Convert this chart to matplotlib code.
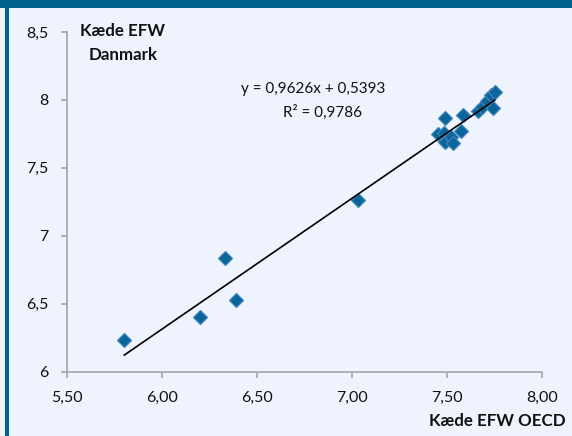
import matplotlib
matplotlib.use("Agg")
import matplotlib.pyplot as plt
from matplotlib.patches import Rectangle
import numpy as np

plt.rcParams['font.family'] = ['Lato', 'DejaVu Sans']

# Data
efw_oecd = [5.80, 6.20, 6.33, 6.39, 7.03, 7.49, 7.58, 7.45, 7.48, 7.49, 7.52, 7.53, 7.57,
            7.66, 7.68, 7.71, 7.73, 7.75, 7.74]
efw_dk = [6.23, 6.40, 6.84, 6.53, 7.26, 7.87, 7.89, 7.75, 7.76, 7.69, 7.73, 7.68, 7.77,
          7.92, 7.95, 7.99, 8.04, 8.06, 7.94]
slope = 0.9626
intercept = 0.5393
eq_text = "y = 0,9626x + 0,5393"
r2_text = "R² = 0,9786"
x_ticks = [5.5, 6.0, 6.5, 7.0, 7.5, 8.0]
x_ticklabels = ["5,50", "6,00", "6,50", "7,00", "7,50", "8,00"]
y_ticks = [6, 6.5, 7, 7.5, 8, 8.5]
y_ticklabels = ["6", "6,5", "7", "7,5", "8", "8,5"]

bg = '#EEF3FE'
frame = '#00628F'
mk = '#0A6598'

W, H = 572, 436
fig = plt.figure(figsize=(W/100, H/100), dpi=100, facecolor=bg)

# frame bars
fig.patches.append(Rectangle((0, 1 - 8/H), 1, 8/H, transform=fig.transFigure,
                             facecolor=frame, edgecolor='none', zorder=0))
fig.patches.append(Rectangle((5/W, 0), 4/W, 1, transform=fig.transFigure,
                             facecolor=frame, edgecolor='none', zorder=0))

ax = fig.add_axes([67.3/W, 1 - 371.7/H, (542.3 - 67.3)/W, (371.7 - 32)/H])
ax.set_facecolor(bg)
ax.set_xlim(5.5, 8.0)
ax.set_ylim(6, 8.5)

for s in ['top', 'right']:
    ax.spines[s].set_visible(False)
for s in ['left', 'bottom']:
    ax.spines[s].set_color('#A6A6A6')
    ax.spines[s].set_linewidth(1.2)

ax.set_xticks(x_ticks)
ax.set_xticklabels(x_ticklabels)
ax.set_yticks(y_ticks)
ax.set_yticklabels(y_ticklabels)
ax.tick_params(axis='both', direction='out', length=4.5, width=1.2, color='#A6A6A6',
               labelsize=11.5, labelcolor='#111111', pad=9)

# trend line
xs = np.array([min(efw_oecd), max(efw_oecd)])
ax.plot(xs, slope * xs + intercept, color='black', lw=1.2, zorder=3)

ax.plot(efw_oecd, efw_dk, linestyle='none', marker='D', markersize=7.2,
        markerfacecolor=mk, markeredgecolor='#3F86BC', markeredgewidth=0.9, zorder=2)

ax.text(313.5/W, 1 - 89/H, eq_text, transform=fig.transFigure, ha='center', va='center',
        fontsize=11, color='#111111')
ax.text(322.5/W, 1 - 112/H, r2_text, transform=fig.transFigure, ha='center', va='center',
        fontsize=11, color='#111111')

fig.text(123/W, 1 - 31/H, "Kæde EFW", ha='center', va='center', fontsize=12.2,
         fontweight='bold', color='#111111')
fig.text(123/W, 1 - 55/H, "Danmark", ha='center', va='center', fontsize=12.2,
         fontweight='bold', color='#111111')
fig.text(566/W, 1 - 421/H, "Kæde EFW OECD", ha='right', va='center', fontsize=12.2,
         fontweight='bold', color='#111111')

fig.savefig("out.png", dpi=100, facecolor=bg)
